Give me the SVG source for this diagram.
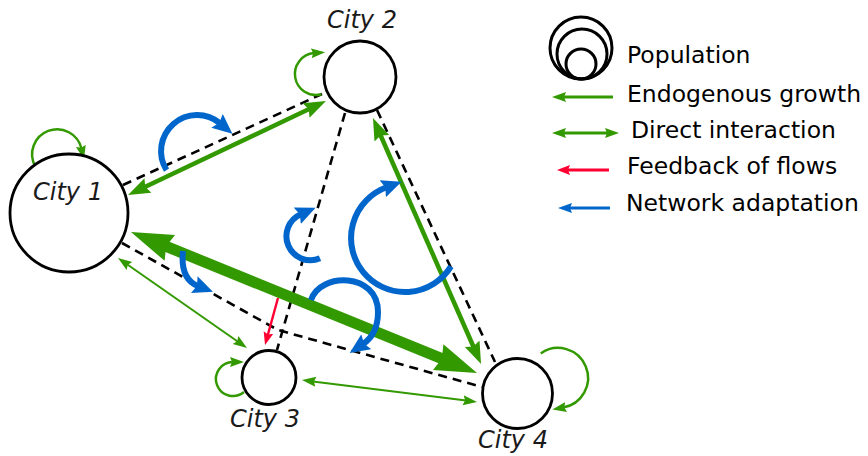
<svg xmlns="http://www.w3.org/2000/svg" width="868" height="456" viewBox="0 0 868 456">
  <style>
    .city { fill: #ffffff; stroke: #000000; stroke-width: 2.8; }
    .pop { fill: none; stroke: #000000; stroke-width: 3; }
    .lbl { font-family: "DejaVu Sans", "Liberation Sans", sans-serif; font-style: italic; font-size: 24px; fill: #1a1a1a; text-anchor: middle; }
    .leg { font-family: "DejaVu Sans", "Liberation Sans", sans-serif; font-size: 23.5px; fill: #000000; }
    .net { fill: none; stroke: #000000; stroke-width: 2.6; stroke-dasharray: 9 6; }
    .grow { fill: none; stroke: #339900; }
    .flow { fill: none; stroke: #ff0033; }
    .adapt { fill: none; stroke: #0066cc; }
  </style>
  <defs>
    <marker id="gS" markerUnits="userSpaceOnUse" markerWidth="16" markerHeight="12" viewBox="0 -6 16 12" refX="3" refY="0" orient="auto-start-reverse">
      <path d="M0,-5 L14,0 L0,5 L2,0 z" fill="#339900"/>
    </marker>
    <marker id="gM" markerUnits="userSpaceOnUse" markerWidth="24" markerHeight="18" viewBox="0 -9 24 18" refX="4" refY="0" orient="auto-start-reverse">
      <path d="M0,-8 L22,0 L0,8 L3,0 z" fill="#339900"/>
    </marker>
    <marker id="gL" markerUnits="userSpaceOnUse" markerWidth="44" markerHeight="30" viewBox="0 -15 44 30" refX="6" refY="0" orient="auto-start-reverse">
      <path d="M0,-14 L42,0 L0,14 L4,0 z" fill="#339900"/>
    </marker>
    <marker id="rS" markerUnits="userSpaceOnUse" markerWidth="15" markerHeight="12" viewBox="0 -6 15 12" refX="3" refY="0" orient="auto">
      <path d="M0,-5 L13,0 L0,5 L2,0 z" fill="#ff0033"/>
    </marker>
    <marker id="bS" markerUnits="userSpaceOnUse" markerWidth="16" markerHeight="12" viewBox="0 -6 16 12" refX="3" refY="0" orient="auto">
      <path d="M0,-5 L14,0 L0,5 L2,0 z" fill="#0066cc"/>
    </marker>
    <marker id="bH" markerUnits="userSpaceOnUse" markerWidth="22" markerHeight="20" viewBox="0 -10 22 20" refX="4" refY="0" orient="auto">
      <path d="M0,-9 L20,0 L0,9 L3,0 z" fill="#0066cc"/>
    </marker>
  </defs>

  <rect width="868" height="456" fill="#ffffff"/>

  <g id="connectors">
    <!-- transport network (dashed) -->
    <g id="network">
      <line class="net" x1="123" y1="185" x2="322" y2="94"/>
      <polyline class="net" points="122,243 278,330 482,387"/>
      <line class="net" x1="345" y1="113" x2="277" y2="350"/>
      <line class="net" x1="377" y1="110" x2="495" y2="362"/>
    </g>

    <!-- direct interactions -->
    <g id="interactions">
      <line class="grow" stroke-width="4.5" x1="144.3" y1="187.3" x2="309.7" y2="108.7" marker-start="url(#gM)" marker-end="url(#gM)"/>
      <line class="grow" stroke-width="11" x1="164.3" y1="245.6" x2="443.7" y2="359.4" marker-start="url(#gL)" marker-end="url(#gL)"/>
      <line class="grow" stroke-width="4.5" x1="380.2" y1="134.5" x2="473.8" y2="347.5" marker-start="url(#gM)" marker-end="url(#gM)"/>
      <line class="grow" stroke-width="2" x1="127" y1="264.3" x2="238" y2="341.7" marker-start="url(#gS)" marker-end="url(#gS)"/>
      <line class="grow" stroke-width="2" x1="312.9" y1="381.4" x2="466.1" y2="400.6" marker-start="url(#gS)" marker-end="url(#gS)"/>
    </g>

    <!-- endogenous growth loops -->
    <g id="growth">
      <path class="grow" stroke-width="2.5" d="M35.3,166.5 A25,25 0 1 1 81.5,148.8" marker-end="url(#gS)"/>
      <path class="grow" stroke-width="2.5" d="M321.4,94.3 A21,21 0 1 1 314.2,53.1" marker-end="url(#gS)"/>
      <path class="grow" stroke-width="2.5" d="M243.9,392 A17,17 0 1 1 233,362" marker-end="url(#gS)"/>
      <path class="grow" stroke-width="2.5" d="M540.8,353.4 A30,30 0 1 1 563.2,407.5" marker-end="url(#gS)"/>
    </g>

    <!-- feedback of flows -->
    <line class="flow" stroke-width="2.4" x1="278" y1="298" x2="267.7" y2="335.4" marker-end="url(#rS)"/>

    <!-- network adaptation -->
    <g id="adaptation">
      <path class="adapt" stroke-width="6" d="M166.5,170.1 A36,36 0 0 1 220.1,123.4" marker-end="url(#bH)"/>
      <path class="adapt" stroke-width="6" d="M183,251 Q180,279 198,286" marker-end="url(#bH)"/>
      <path class="adapt" stroke-width="6" d="M320,258.3 A24,24 0 0 1 300.9,214.2" marker-end="url(#bH)"/>
      <path class="adapt" stroke-width="6" d="M451,266.4 A54,54 0 1 1 386.5,187.3" marker-end="url(#bH)"/>
      <path class="adapt" stroke-width="6" d="M311,300 C320,272 378,272 378,312 C378,327 372,338 363,344" marker-end="url(#bH)"/>
    </g>
  </g>

  <g id="city1">
    <circle class="city" cx="69" cy="213" r="59"/>
    <text class="lbl" x="68" y="200">City 1</text>
  </g>
  <g id="city2">
    <circle class="city" cx="360" cy="77" r="36"/>
    <text class="lbl" x="362" y="28">City 2</text>
  </g>
  <g id="city3">
    <circle class="city" cx="269" cy="377.5" r="27"/>
    <text class="lbl" x="265" y="427">City 3</text>
  </g>
  <g id="city4">
    <circle class="city" cx="517.5" cy="393.5" r="35"/>
    <text class="lbl" x="513" y="448">City 4</text>
  </g>

  <g id="legend">
    <circle class="pop" cx="581" cy="48" r="31"/>
    <circle class="pop" cx="582" cy="54" r="25"/>
    <circle class="pop" cx="581" cy="64" r="15"/>
    <text class="leg" x="627" y="63">Population</text>

    <line class="grow" stroke-width="3" x1="613" y1="97" x2="563" y2="97" marker-end="url(#gS)"/>
    <text class="leg" x="627" y="102">Endogenous growth</text>

    <line class="grow" stroke-width="3" x1="563" y1="133" x2="608" y2="133" marker-start="url(#gS)" marker-end="url(#gS)"/>
    <text class="leg" x="631" y="138">Direct interaction</text>

    <line class="flow" stroke-width="3" x1="609" y1="170" x2="567" y2="170" marker-end="url(#rS)"/>
    <text class="leg" x="627" y="174">Feedback of flows</text>

    <line class="adapt" stroke-width="3" x1="610" y1="208" x2="569" y2="208" marker-end="url(#bS)"/>
    <text class="leg" x="626" y="211">Network adaptation</text>
  </g>
</svg>
